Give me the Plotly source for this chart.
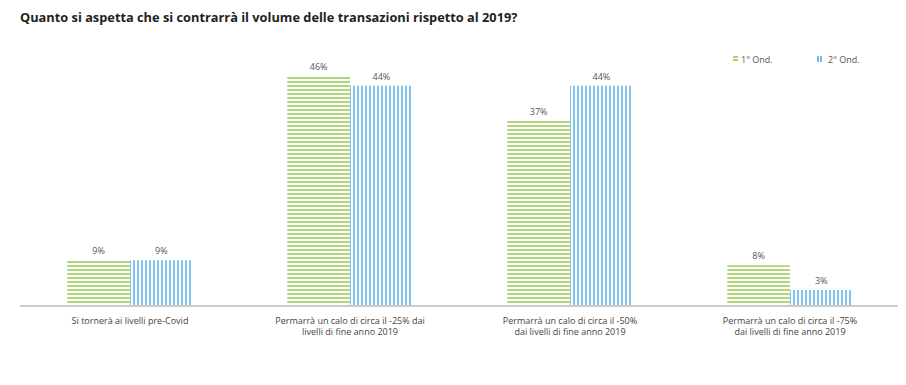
import plotly.graph_objects as go

categories = [
    "Si tornerà ai livelli pre-Covid",
    "Permarrà un calo di circa il -25% dai<br>livelli di fine anno 2019",
    "Permarrà un calo di circa il -50%<br>dai livelli di fine anno 2019",
    "Permarrà un calo di circa il -75%<br>dai livelli di fine anno 2019",
]
series_names = ["1° Ond.", "2° Ond."]
ond1 = [9, 46, 37, 8]
ond2 = [9, 44, 44, 3]

FONT = "Open Sans, Segoe UI, Arial, sans-serif"
GREEN = "#8cc63f"
BLUE = "#4aa8e8"

# page body has an 8px offset; figure sized to compensate
W, H = 898, 377
ML, MR, MT, MB = 12, 6, 32, 80

fig = go.Figure()
fig.add_trace(go.Bar(
    name=series_names[0], x=categories, y=ond1,
    text=[f"{v}%" for v in ond1], textposition="outside",
    textfont=dict(size=9, color="#555555", family=FONT),
    marker=dict(color="white", line=dict(width=0),
                pattern=dict(shape="-", fgcolor=GREEN, bgcolor="white",
                             size=4, solidity=0.35, fillmode="replace")),
    cliponaxis=False, showlegend=False,
))
fig.add_trace(go.Bar(
    name=series_names[1], x=categories, y=ond2,
    text=[f"{v}%" for v in ond2], textposition="outside",
    textfont=dict(size=9, color="#555555", family=FONT),
    marker=dict(color="white", line=dict(width=0),
                pattern=dict(shape="|", fgcolor=BLUE, bgcolor="white",
                             size=4, solidity=0.35, fillmode="replace")),
    cliponaxis=False, showlegend=False,
))

pw = W - ML - MR
ph = H - MT - MB
def px(x):  # figure pixel x -> paper fraction
    return (x - ML) / pw
def py(y):  # figure pixel y (from top) -> paper fraction
    return 1 - (y - MT) / ph

shapes = []
# legend symbols (screen coords minus 8px offset)
for yy in (57 - 8, 60 - 8):
    shapes.append(dict(type="line", xref="paper", yref="paper",
                       x0=px(733 - 8), x1=px(738 - 8), y0=py(yy), y1=py(yy),
                       line=dict(color=GREEN, width=1.5)))
for xx in (818 - 8, 821 - 8):
    shapes.append(dict(type="line", xref="paper", yref="paper",
                       x0=px(xx), x1=px(xx), y0=py(56 - 8), y1=py(62 - 8),
                       line=dict(color=BLUE, width=1.5)))

annotations = [
    dict(text=series_names[0], xref="paper", yref="paper", x=px(739 - 8), y=py(59 - 8),
         xanchor="left", yanchor="middle", showarrow=False,
         font=dict(size=9, color="#555555", family=FONT)),
    dict(text=series_names[1], xref="paper", yref="paper", x=px(826 - 8), y=py(59 - 8),
         xanchor="left", yanchor="middle", showarrow=False,
         font=dict(size=9, color="#555555", family=FONT)),
]

fig.update_layout(
    width=W, height=H,
    margin=dict(l=ML, r=MR, t=MT, b=MB, autoexpand=False),
    paper_bgcolor="white", plot_bgcolor="white",
    barmode="group", bargap=0.43, bargroupgap=0,
    title=dict(text="<b>Quanto si aspetta che si contrarrà il volume delle transazioni rispetto al 2019?</b>",
               x=12 / W, xanchor="left", xref="container",
               y=1 - 10 / H, yanchor="middle", yref="container",
               font=dict(size=12.8, color="#222222", family=FONT)),
    font=dict(family=FONT, size=9, color="#444444"),
    showlegend=False,
    shapes=shapes,
    annotations=annotations,
)
fig.update_xaxes(showline=True, linecolor="#cccccc", linewidth=1.5,
                 ticks="outside", ticklen=6, tickcolor="rgba(0,0,0,0)",
                 tickfont=dict(size=9, color="#444444", family=FONT), showgrid=False)
fig.update_yaxes(range=[0, 53.2], visible=False, showgrid=False, zeroline=False)

fig.write_html("out.html")
